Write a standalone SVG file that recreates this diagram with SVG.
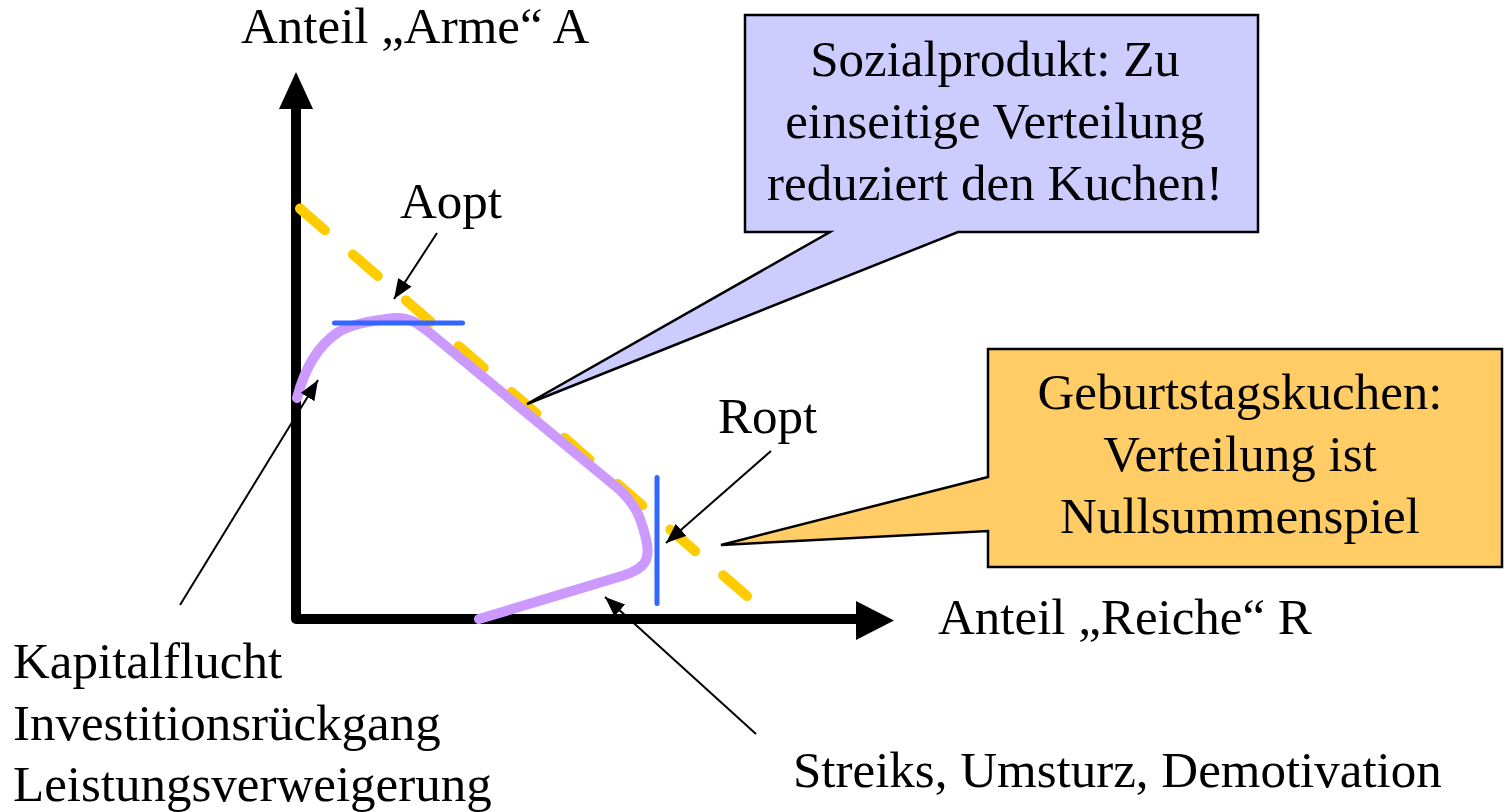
<svg xmlns="http://www.w3.org/2000/svg" width="1506" height="812" viewBox="0 0 1506 812">
<style>
text{font-family:"Liberation Serif","Times New Roman",serif;font-size:51px;fill:#000}
.c{text-anchor:middle}
.thin{stroke:#000;stroke-width:2;fill:none;marker-end:url(#ah)}
.callout{stroke:#000;stroke-width:2.5;stroke-linejoin:miter}
</style>
<defs>
<marker id="ah" markerUnits="userSpaceOnUse" markerWidth="22" markerHeight="18" refX="20" refY="8" orient="auto">
<path d="M0,0 L20,8 L0,16 Z" fill="#000"/>
</marker>
</defs>
<rect width="1506" height="812" fill="#fff"/>
<g id="axes">
<path d="M296,109 V619 H856" fill="none" stroke="#000" stroke-width="10" stroke-linejoin="round"/>
<polygon points="279,109 313,109 296,72" fill="#000"/>
<polygon points="856,601 856,640 894,620.5" fill="#000"/>
</g>
<g id="budget-line">
<line x1="300" y1="208.6" x2="747" y2="596" stroke="#FFCC00" stroke-width="10" stroke-linecap="round" stroke-dasharray="33 37"/>
</g>
<g id="curve">
<path d="M297,398 C303,375 315,348 337,333 C350,324 375,320 395,318 C408,317 418,323 430,333 L620,490 C635,505 640,515 645,535 C652,560 645,568 625,575 L479,619" fill="none" stroke="#CC99FF" stroke-width="10" stroke-linecap="round" stroke-linejoin="round"/>
</g>
<g id="optima">
<line x1="334.5" y1="323" x2="462.5" y2="323" stroke="#3366FF" stroke-width="5" stroke-linecap="round"/>
<line x1="657" y1="477.5" x2="657" y2="603.5" stroke="#3366FF" stroke-width="5" stroke-linecap="round"/>
</g>
<g id="connectors">
<line class="thin" x1="437" y1="233" x2="394" y2="299"/>
<line class="thin" x1="771" y1="451" x2="666" y2="543"/>
<line class="thin" x1="180" y1="605" x2="318" y2="380"/>
<line class="thin" x1="756" y1="734" x2="605" y2="597"/>
</g>
<g id="callout-sozialprodukt">
<path class="callout" d="M745,15 H1258 V232 H958 L527,404 L830,232 H745 Z" fill="#CCCCFF"/>
<text class="c" x="995" y="76">Sozialprodukt: Zu</text>
<text class="c" x="995" y="138">einseitige Verteilung</text>
<text class="c" x="995" y="200">reduziert den Kuchen!</text>
</g>
<g id="callout-geburtstag">
<path class="callout" d="M988,349 H1502 V567 H988 V531 L721,545 L988,477 Z" fill="#FFCC66"/>
<text class="c" x="1240" y="409">Geburtstagskuchen:</text>
<text class="c" x="1240" y="471">Verteilung ist</text>
<text class="c" x="1240" y="533">Nullsummenspiel</text>
</g>
<g id="labels">
<text x="241" y="43">Anteil „Arme“ A</text>
<text x="938" y="634">Anteil „Reiche“ R</text>
<text x="400" y="218">Aopt</text>
<text x="718" y="433">Ropt</text>
<text x="13" y="678">Kapitalflucht</text>
<text x="13" y="740">Investitionsrückgang</text>
<text x="13" y="801">Leistungsverweigerung</text>
<text x="793" y="787">Streiks, Umsturz, Demotivation</text>
</g>
</svg>
